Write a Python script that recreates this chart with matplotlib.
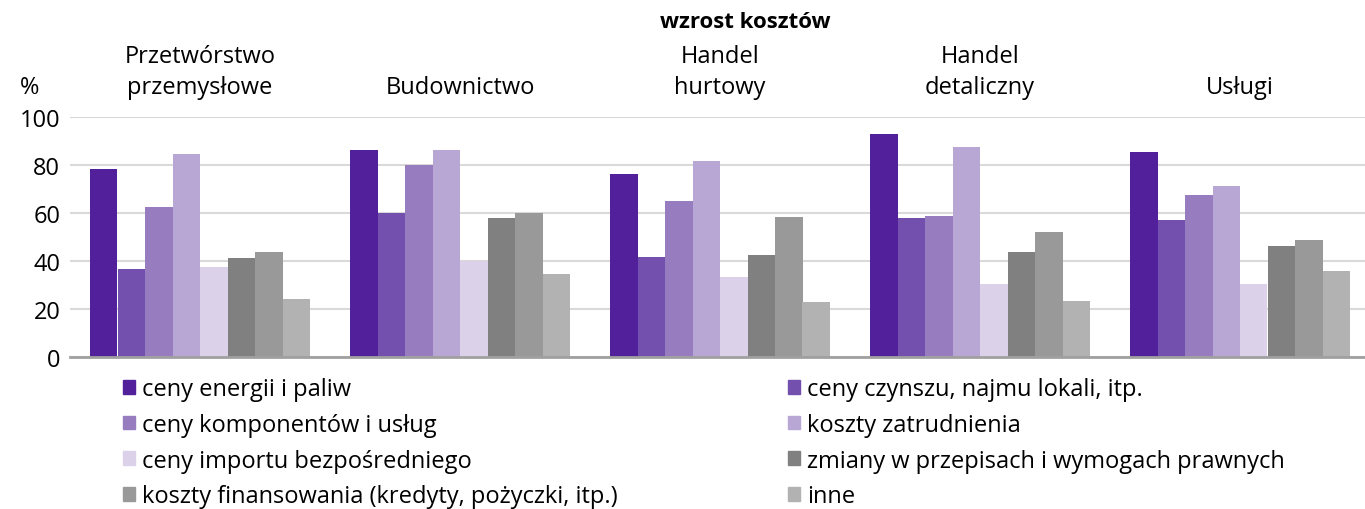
import numpy as np
from matplotlib import pyplot as plt
from matplotlib.patches import Patch

plt.rcParams['font.family'] = ['Open Sans', 'DejaVu Sans']

groups = ['Przetwórstwo\nprzemysłowe', 'Budownictwo', 'Handel\nhurtowy',
          'Handel\ndetaliczny', 'Usługi']
series = ['ceny energii i paliw',
          'ceny czynszu, najmu lokali, itp.',
          'ceny komponentów i usług',
          'koszty zatrudnienia',
          'ceny importu bezpośredniego',
          'zmiany w przepisach i wymogach prawnych',
          'koszty finansowania (kredyty, pożyczki, itp.)',
          'inne']
energia = [78.3, 86.2, 76.2, 93.0, 85.6]
czynsz = [36.6, 59.8, 41.5, 57.8, 56.9]
komponenty = [62.4, 79.8, 65.2, 58.6, 67.7]
zatrudnienie = [84.5, 86.4, 81.8, 87.6, 71.4]
import_bezp = [37.4, 40.0, 33.2, 30.4, 30.4]
przepisy = [41.2, 57.8, 42.4, 43.9, 46.3]
finansowanie = [43.6, 60.2, 58.2, 52.0, 48.7]
inne = [24.1, 34.5, 22.9, 23.3, 35.7]
values = [energia, czynsz, komponenty, zatrudnienie, import_bezp, przepisy, finansowanie, inne]
colors = ['#51209a', '#7350ae', '#977cc0', '#b8a7d5', '#dbd2e9', '#808080', '#999999', '#b2b2b2']

fig = plt.figure(figsize=(13.65, 5.10), dpi=100)
ax = fig.add_axes([70/1365, 152/510, 1295/1365, 240/510])

x = np.arange(len(groups))
w = 27.5/260
for i, (vals, c) in enumerate(zip(values, colors)):
    ax.bar(x + (i - 3.5)*w, vals, width=w, color=c, zorder=3)

ax.set_ylim(0, 100)
ax.set_xlim(-0.5, 1165/260)
ax.set_yticks(range(0, 101, 20))
ax.tick_params(axis='y', length=0, labelsize=17, pad=7)
ax.tick_params(axis='x', length=0)
ax.set_xticks([])
ax.yaxis.grid(True, color='#d9d9d9', lw=1.5, zorder=0)
for s in ['left', 'right', 'top']:
    ax.spines[s].set_visible(False)
ax.spines['bottom'].set_color('#a0a0a0')
ax.spines['bottom'].set_linewidth(2)
ax.spines['bottom'].set_zorder(4)

for g, lab in zip(x, groups):
    ax.text(g, 1.075, lab, transform=ax.get_xaxis_transform(), ha='center', va='bottom',
            fontsize=17, linespacing=1.4)

ax.text(-0.654, 1.125, '%', transform=ax.get_xaxis_transform(), ha='center', va='center', fontsize=17)
fig.text(745/1365, 1 - 23/510, 'wzrost kosztów', ha='center', va='center', fontsize=16, fontweight='bold')

handles = [Patch(color=c, label=s) for c, s in zip(colors, series)]
order = [0, 2, 4, 6, 1, 3, 5, 7]
fig.legend([handles[k] for k in order], [series[k] for k in order], ncol=2,
           loc='upper left', bbox_to_anchor=(123/1365, 1 - 378/510), frameon=False,
           fontsize=17, handlelength=0.52, handleheight=0.52, handletextpad=0.3,
           labelspacing=0.5, columnspacing=7.2, borderaxespad=0, borderpad=0)

plt.savefig('out.png', dpi=100)
